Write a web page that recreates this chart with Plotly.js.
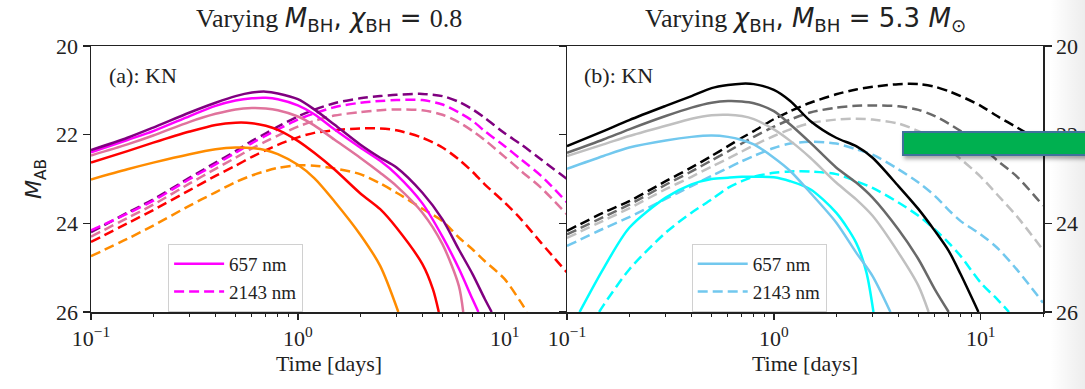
<!DOCTYPE html>
<html>
<head>
<meta charset="utf-8">
<script src="https://cdn.plot.ly/plotly-3.0.1.min.js"></script>
<style>
  html, body { margin:0; padding:0; background:#fff; }
  #wrap { position:relative; width:1085px; height:389px; overflow:hidden; }
  #chart { position:absolute; left:0; top:0; width:1085px; height:389px; }
  #greenbox { position:absolute; left:902px; top:131px; width:190px; height:21px; background:#00b050; border:2px solid #41719c; box-shadow:2px 3px 4px rgba(0,0,0,0.35); }
  #edgeshade { position:absolute; left:1050px; top:0; width:35px; height:389px; background:linear-gradient(to right, rgba(0,0,0,0), rgba(0,0,0,0.07)); pointer-events:none; }
</style>
</head>
<body>
<div id="wrap">
  <div id="chart"></div>
  <div id="edgeshade"></div>
  <div id="greenbox"></div>
</div>
<script>
// ---------- Data (time in days, AB magnitude) ----------
const tFull = [0.1,0.15,0.2,0.3,0.4,0.5,0.6,0.7,0.8,1,1.2,1.5,2,2.5,3,4,5,6,7,8,10,12,15,20];

// Panel (a): varying M_BH, chi_BH = 0.8 — 657 nm (solid)
const tPurple657 = [0.1,0.15,0.2,0.3,0.4,0.5,0.6,0.7,0.8,1,1.2,1.5,2,2.5,3,4,5,6,7,8,8.65];
const mPurple657 = [22.35,22.07,21.84,21.50,21.28,21.13,21.05,21.03,21.07,21.20,21.43,21.77,22.22,22.52,22.74,23.31,23.91,24.59,25.15,25.70,26];
const tMagenta657 = [0.1,0.15,0.2,0.3,0.4,0.5,0.6,0.7,0.8,1,1.2,1.5,2,2.5,3,4,5,6,7,7.46];
const mMagenta657 = [22.40,22.12,21.92,21.58,21.35,21.23,21.18,21.17,21.20,21.34,21.54,21.88,22.29,22.59,22.90,23.55,24.30,25.02,25.72,26];
const tPink657 = [0.1,0.15,0.2,0.3,0.4,0.5,0.6,0.7,0.8,1,1.2,1.5,2,2.5,3,4,5,6,6.3];
const mPink657 = [22.47,22.22,22.02,21.71,21.53,21.43,21.40,21.41,21.45,21.59,21.79,22.11,22.52,22.86,23.16,23.76,24.47,25.41,26];
const tRed657 = [0.1,0.15,0.2,0.3,0.4,0.5,0.6,0.7,0.8,1,1.2,1.5,2,2.5,3,4,4.5,4.8];
const mRed657 = [22.63,22.37,22.18,21.93,21.78,21.73,21.74,21.80,21.89,22.14,22.41,22.78,23.32,23.68,24.10,24.92,25.49,26];
const tOrange657 = [0.1,0.15,0.2,0.3,0.4,0.5,0.6,0.7,0.8,1,1.2,1.5,2,2.5,3.06];
const mOrange657 = [23.01,22.78,22.63,22.44,22.33,22.29,22.30,22.35,22.44,22.68,22.98,23.50,24.25,24.96,26];

// Panel (a) — 2143 nm (dashed)
const mPurple2143 = [24.20,23.76,23.46,22.97,22.63,22.37,22.14,21.97,21.82,21.59,21.44,21.29,21.18,21.13,21.10,21.08,21.13,21.26,21.43,21.62,21.97,22.22,22.56,23.00];
const mMagenta2143 = [24.16,23.78,23.49,23.00,22.67,22.41,22.19,22.02,21.88,21.66,21.52,21.38,21.28,21.24,21.22,21.22,21.32,21.50,21.69,21.92,22.26,22.56,22.93,23.53];
const mPink2143 = [24.30,23.88,23.58,23.10,22.77,22.52,22.31,22.15,22.02,21.82,21.69,21.57,21.49,21.45,21.43,21.45,21.55,21.72,21.92,22.12,22.50,22.82,23.20,23.80];
const mRed2143 = [24.42,24.00,23.70,23.25,22.93,22.70,22.50,22.35,22.23,22.06,21.96,21.90,21.86,21.86,21.90,22.07,22.29,22.56,22.84,23.12,23.53,23.91,24.44,25.11];
const tOrange2143 = [0.1,0.15,0.2,0.3,0.4,0.5,0.6,0.7,0.8,1,1.2,1.5,2,2.5,3,4,5,6,7,8,10,12,12.8];
const mOrange2143 = [24.74,24.35,24.05,23.60,23.30,23.07,22.92,22.82,22.75,22.69,22.70,22.76,22.89,23.10,23.31,23.67,23.95,24.32,24.59,24.85,25.26,25.79,26];

// Panel (b): varying chi_BH, M_BH = 5.3 Msun — 657 nm (solid)
const tBlack657 = [0.1,0.15,0.2,0.3,0.4,0.5,0.6,0.7,0.8,1,1.2,1.5,2,2.5,3,4,5,6,7,8,9.75];
const mBlack657 = [22.26,21.92,21.67,21.35,21.13,20.95,20.88,20.85,20.86,20.99,21.24,21.69,22.07,22.26,22.52,23.16,23.68,24.17,24.62,25.15,26];
const tGray657 = [0.1,0.15,0.2,0.3,0.4,0.5,0.6,0.7,0.8,1,1.2,1.5,2,2.5,3,4,5,6,7];
const mGray657 = [22.41,22.11,21.88,21.58,21.39,21.28,21.24,21.25,21.29,21.47,21.77,22.18,22.74,23.08,23.42,24.14,24.81,25.49,26];
const tSilver657 = [0.1,0.15,0.2,0.3,0.4,0.5,0.6,0.7,0.8,1,1.2,1.5,2,2.5,3,4,5,5.6];
const mSilver657 = [22.48,22.22,22.03,21.80,21.64,21.56,21.55,21.58,21.65,21.88,22.14,22.52,23.08,23.46,23.83,24.66,25.41,26];
const tSky657 = [0.1,0.15,0.2,0.3,0.4,0.5,0.6,0.7,0.8,1,1.2,1.5,2,2.5,3,3.66];
const mSky657 = [22.77,22.48,22.29,22.13,22.05,22.02,22.05,22.12,22.22,22.52,22.82,23.31,23.98,24.66,25.19,26];
const tCyan657 = [0.115,0.15,0.2,0.3,0.4,0.5,0.6,0.7,0.8,1,1.2,1.5,2,2.5,2.8,3.03];
const mCyan657 = [26,25.02,24.10,23.42,23.12,23.00,22.97,22.95,22.95,22.96,23.05,23.23,23.76,24.44,25.10,26];

// Panel (b) — 2143 nm (dashed)
const mBlack2143 = [24.17,23.76,23.50,23.05,22.74,22.48,22.26,22.07,21.92,21.65,21.47,21.28,21.09,20.98,20.92,20.86,20.86,20.92,21.02,21.13,21.35,21.58,21.84,22.18];
const mGray2143 = [24.25,23.86,23.58,23.13,22.83,22.58,22.38,22.20,22.05,21.82,21.66,21.50,21.39,21.35,21.34,21.36,21.44,21.58,21.75,21.92,22.25,22.58,22.95,23.60];
const mSilver2143 = [24.33,23.94,23.66,23.23,22.95,22.72,22.54,22.38,22.24,22.03,21.88,21.74,21.66,21.64,21.66,21.75,21.92,22.12,22.33,22.55,22.95,23.35,23.85,24.60];
const mSky2143 = [24.51,24.12,23.86,23.45,23.16,22.93,22.75,22.60,22.48,22.30,22.20,22.16,22.20,22.33,22.45,22.78,23.08,23.38,23.70,23.95,24.25,24.55,25.05,25.79];
const tCyan2143 = [0.143,0.15,0.2,0.3,0.4,0.5,0.6,0.7,0.8,1,1.2,1.5,2,2.5,3,4,5,6,7,8,10,12,13.7];
const mCyan2143 = [26,25.85,25.04,24.21,23.76,23.46,23.20,23.05,22.95,22.86,22.83,22.83,22.89,23.05,23.20,23.53,23.83,24.14,24.44,24.74,25.34,25.71,26];

// Tick labels
const yTickVals = [20,22,24,26];
const xTickVals = [0.1,1,10];
const xTickText = ['10<sup>−1</sup>','10<sup>0</sup>','10<sup>1</sup>'];

// ---------- Build ----------
const LW = 2.5;
const DASH = '10px,5px';
function tr(x, y, color, dash, ax, extra) {
  return Object.assign({
    x: x, y: y, type: 'scatter', mode: 'lines',
    line: {color: color, width: LW, dash: dash, shape: 'spline', smoothing: 0.8},
    xaxis: ax === 2 ? 'x2' : 'x', yaxis: ax === 2 ? 'y2' : 'y',
    showlegend: false, hoverinfo: 'skip'
  }, extra || {});
}

const traces = [
  tr(tFull, mPurple2143, '#800080', DASH, 1),
  tr(tFull, mMagenta2143, '#ff00ff', DASH, 1, {showlegend:true, name:'2143 nm', legend:'legend', legendrank:2}),
  tr(tFull, mPink2143, '#e0739c', DASH, 1),
  tr(tFull, mRed2143, '#ff0000', DASH, 1),
  tr(tOrange2143, mOrange2143, '#ff8c00', DASH, 1),
  tr(tOrange657, mOrange657, '#ff8c00', 'solid', 1),
  tr(tRed657, mRed657, '#ff0000', 'solid', 1),
  tr(tPink657, mPink657, '#e0739c', 'solid', 1),
  tr(tMagenta657, mMagenta657, '#ff00ff', 'solid', 1, {showlegend:true, name:'657 nm', legend:'legend', legendrank:1}),
  tr(tPurple657, mPurple657, '#800080', 'solid', 1),

  tr(tFull, mBlack2143, '#000000', DASH, 2),
  tr(tFull, mGray2143, '#696969', DASH, 2),
  tr(tFull, mSilver2143, '#c0c0c0', DASH, 2),
  tr(tFull, mSky2143, '#72c8ee', DASH, 2, {showlegend:true, name:'2143 nm', legend:'legend2', legendrank:2}),
  tr(tCyan2143, mCyan2143, '#00ffff', DASH, 2),
  tr(tCyan657, mCyan657, '#00ffff', 'solid', 2),
  tr(tSky657, mSky657, '#72c8ee', 'solid', 2, {showlegend:true, name:'657 nm', legend:'legend2', legendrank:1}),
  tr(tSilver657, mSilver657, '#c0c0c0', 'solid', 2),
  tr(tGray657, mGray657, '#696969', 'solid', 2),
  tr(tBlack657, mBlack657, '#000000', 'solid', 2)
];

const minorVals = [];
[0.1, 1, 10].forEach(d => { for (let k = 2; k <= 9; k++) { const v = k * d; if (v <= 20.0001) minorVals.push(+v.toFixed(3)); } });

const tickFont = {family: 'Liberation Serif, Times New Roman, serif', size: 22, color: '#222'};
function xax(domain, anchor) {
  return {
    type: 'log', domain: domain, anchor: anchor, range: [-1, Math.log10(20)],
    tickmode: 'array', tickvals: xTickVals, ticktext: xTickText,
    ticks: 'outside', ticklen: 6, tickwidth: 1.3, tickcolor: '#222',
    showline: true, linecolor: '#222', linewidth: 1.5, mirror: true,
    showgrid: false, zeroline: false, tickfont: tickFont,
    minor: {ticks: 'outside', ticklen: 3.5, tickwidth: 1, tickcolor: '#222', tickmode: 'array', tickvals: minorVals, showgrid: false},
    title: {text: 'Time [days]', font: {family: 'Liberation Serif, serif', size: 22, color: '#222'}, standoff: 2}
  };
}

const layout = {
  width: 1085, height: 389,
  margin: {l: 91, r: 42, t: 46, b: 77},
  paper_bgcolor: 'rgba(0,0,0,0)', plot_bgcolor: '#fff',
  font: {family: 'Liberation Serif, serif', size: 18, color: '#222'},
  xaxis: xax([0, 0.5], 'y'),
  xaxis2: xax([0.5, 1], 'y2'),
  yaxis: {
    domain: [0, 1], anchor: 'x', range: [26, 20], tickmode: 'array', tickvals: yTickVals,
    ticks: 'outside', ticklen: 7, tickwidth: 1.3, tickcolor: '#222',
    showline: true, linecolor: '#222', linewidth: 1.5, mirror: false,
    showgrid: false, zeroline: false, tickfont: tickFont,
    title: {text: '<i>M</i><sub>AB</sub>', font: {family: 'DejaVu Sans, sans-serif', size: 22, color: '#222'}, standoff: 8}
  },
  yaxis2: {
    domain: [0, 1], anchor: 'x2', side: 'right', range: [26, 20], tickmode: 'array', tickvals: yTickVals,
    ticks: 'outside', ticklen: 7, tickwidth: 1.3, tickcolor: '#222',
    showline: true, linecolor: '#222', linewidth: 1.5, mirror: 'ticks',
    showgrid: false, zeroline: false, tickfont: tickFont
  },
  legend: {
    x: 0.081, y: 0.256, xanchor: 'left', yanchor: 'top',
    bgcolor: '#fff', bordercolor: '#d0d0d0', borderwidth: 1,
    font: {family: 'Liberation Serif, serif', size: 19, color: '#222'},
    tracegroupgap: 0, traceorder: 'normal', itemwidth: 50
  },
  legend2: {
    x: 0.631, y: 0.256, xanchor: 'left', yanchor: 'top',
    bgcolor: '#fff', bordercolor: '#d0d0d0', borderwidth: 1,
    font: {family: 'Liberation Serif, serif', size: 19, color: '#222'},
    tracegroupgap: 0, traceorder: 'normal', itemwidth: 50
  },
  annotations: [
    {xref: 'paper', yref: 'paper', x: 0.25, y: 1.098, xanchor: 'center', yanchor: 'middle', showarrow: false,
     text: 'Varying <span style="font-family:DejaVu Sans"><i>M</i><sub>BH</sub>, <i>χ</i><sub>BH</sub> = </span>0.8',
     font: {family: 'Liberation Serif, serif', size: 26, color: '#222'}},
    {xref: 'paper', yref: 'paper', x: 0.75, y: 1.098, xanchor: 'center', yanchor: 'middle', showarrow: false,
     text: 'Varying <span style="font-family:DejaVu Sans"><i>χ</i><sub>BH</sub>, <i>M</i><sub>BH</sub> = 5.3 <i>M</i><sub>⊙</sub></span>',
     font: {family: 'Liberation Serif, serif', size: 26, color: '#222'}},
    {xref: 'paper', yref: 'paper', x: 0.017, y: 0.89, xanchor: 'left', yanchor: 'middle', showarrow: false,
     text: '(a): KN', font: {family: 'Liberation Serif, serif', size: 22, color: '#222'}},
    {xref: 'paper', yref: 'paper', x: 0.516, y: 0.89, xanchor: 'left', yanchor: 'middle', showarrow: false,
     text: '(b): KN', font: {family: 'Liberation Serif, serif', size: 22, color: '#222'}}
  ]
};

Plotly.newPlot('chart', traces, layout, {staticPlot: true, displayModeBar: false});
</script>
</body>
</html>
